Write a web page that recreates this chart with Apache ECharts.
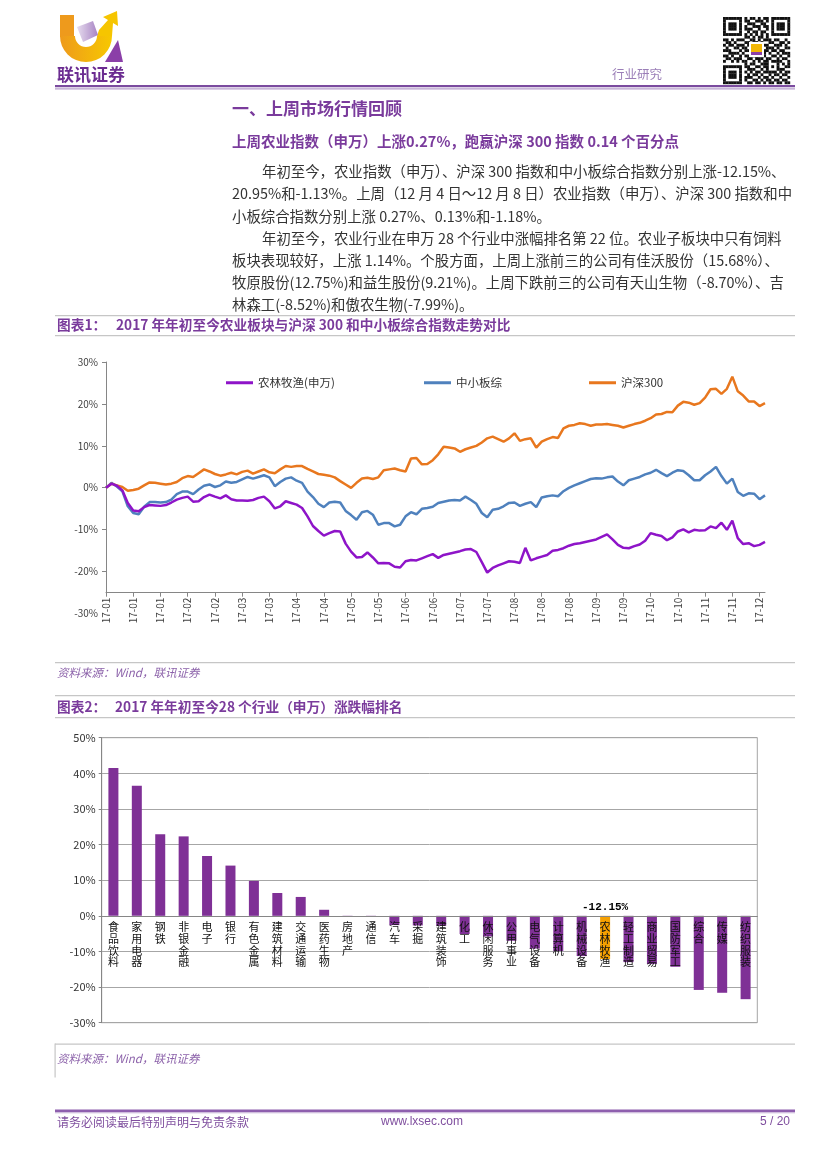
<!DOCTYPE html>
<html><head><meta charset="utf-8">
<script src="https://cdn.jsdelivr.net/npm/echarts@6/dist/echarts.min.js"></script>
<style>html,body{margin:0;padding:0;background:#fff}#c{width:827px;height:1170px}</style>
</head><body><div id="c"></div>
<script>
// ---------- Chart 1 data ----------
const monthLabels = ['17-01','17-01','17-01','17-02','17-02','17-03','17-03','17-04','17-04','17-05','17-05','17-06','17-06','17-07','17-07','17-08','17-08','17-08','17-09','17-09','17-10','17-10','17-11','17-11','17-12'];
const agriIdx = [
 0, 1.0, 0.5, -0.6, -3.6, -5.4, -5.6, -4.6, -4.1, -4.2,
 -4.3, -4.1, -3.5, -2.8, -2.4, -2.1, -3.3, -3.2, -2.2, -1.6,
 -2.1, -2.5, -1.8, -2.7, -3.0, -3.0, -3.1, -2.9, -2.4, -2.1,
 -3.2, -4.9, -4.4, -3.2, -3.6, -4.0, -4.8, -6.8, -9.1, -10.3,
 -11.4, -10.8, -10.3, -10.4, -13.3, -15.2, -16.6, -16.5, -15.4, -16.6,
 -18.0, -17.9, -18.0, -18.8, -19.0, -17.5, -17.2, -17.3, -16.8, -16.3,
 -15.8, -16.7, -16.0, -15.7, -15.4, -15.1, -14.7, -14.6, -15.3, -17.7,
 -20.2, -19.1, -18.5, -18.0, -17.5, -17.6, -17.9, -14.3, -17.3, -16.8,
 -16.4, -16.0, -15.0, -14.8, -14.4, -13.8, -13.4, -13.2, -12.9, -12.6,
 -12.3, -11.7, -11.1, -12.3, -13.6, -14.3, -14.4, -13.9, -13.5, -12.6,
 -10.8, -11.2, -11.5, -12.5, -11.8, -10.4, -9.9, -10.6, -10.0, -10.2,
 -10.1, -9.2, -9.6, -8.3, -10.0, -7.8, -12.0, -13.4, -13.2, -13.9,
 -13.6, -12.9];
const smeIdx = [
 0, 1.2, 0.3, -0.8, -4.4, -6.0, -6.3, -4.5, -3.4, -3.4,
 -3.5, -3.4, -2.8, -1.5, -0.9, -0.9, -1.5, -0.4, 0.5, 0.8,
 0.2, 0.6, 1.5, 1.2, 1.4, 2.0, 2.6, 2.2, 2.6, 3.0,
 2.5, 0.4, 1.4, 2.2, 2.5, 1.7, 1.2, -0.9, -2.2, -3.8,
 -4.6, -3.5, -3.3, -3.5, -5.5, -6.5, -7.6, -5.8, -5.5, -6.4,
 -8.8, -8.4, -8.4, -9.2, -8.8, -6.8, -5.8, -6.3, -5.0, -4.8,
 -4.5, -3.6, -3.3, -3.0, -2.9, -3.0, -2.1, -2.9, -3.8, -6.0,
 -7.0, -5.2, -5.0, -4.4, -3.6, -3.5, -4.3, -3.8, -3.4, -4.6,
 -2.3, -2.0, -1.8, -2.0, -0.8, 0.0, 0.6, 1.1, 1.6, 2.1,
 2.3, 2.2, 2.5, 2.7, 1.5, 0.6, 1.8, 2.2, 2.6, 3.2,
 3.6, 4.3, 3.5, 2.8, 3.6, 4.2, 4.0, 3.0, 1.8, 1.8,
 3.0, 3.9, 5.0, 2.8, 1.0, 2.2, -1.0, -1.9, -1.3, -1.4,
 -2.7, -1.8];
const hs300 = [
 0, 1.0, 0.6, 0.2, -0.7, -0.5, -0.2, 0.6, 1.3, 1.2,
 1.0, 0.8, 1.0, 1.4, 2.3, 2.8, 2.6, 3.5, 4.4, 3.9,
 3.3, 2.9, 3.2, 3.6, 3.2, 3.8, 4.1, 3.4, 3.9, 4.4,
 3.7, 3.5, 4.4, 5.2, 5.0, 5.2, 5.2, 4.5, 3.9, 3.3,
 3.1, 2.9, 2.5, 1.6, 0.8, 0.0, 1.2, 2.2, 2.4, 2.1,
 2.5, 4.2, 4.4, 4.6, 4.2, 3.9, 7.0, 7.1, 5.6, 5.7,
 6.6, 8.0, 9.8, 9.6, 9.4, 8.6, 9.2, 9.6, 10.0, 10.8,
 11.8, 12.2, 11.6, 11.0, 11.8, 13.0, 11.2, 11.6, 11.8, 9.6,
 11.0, 11.6, 12.1, 11.9, 14.2, 14.8, 15.0, 15.4, 15.2, 14.8,
 15.1, 15.1, 15.2, 15.0, 14.8, 14.4, 14.8, 15.2, 15.5, 16.0,
 16.6, 17.5, 17.6, 18.1, 18.0, 19.6, 20.5, 20.3, 19.8, 20.2,
 21.5, 23.5, 23.6, 22.4, 23.6, 26.5, 23.0, 22.0, 20.6, 20.6,
 19.5, 20.2];
const lineNames = ['农林牧渔(申万)', '中小板综', '沪深300'];
const lineColors = ['#8E14C8', '#4F81BD', '#E8771E'];
const dayCategories = agriIdx.map((_, i) => monthLabels[Math.min(monthLabels.length - 1, Math.floor(i / 5))]);

// ---------- Chart 2 data ----------
const industries = ['食品饮料','家用电器','钢铁','非银金融','电子','银行','有色金属','建筑材料','交通运输','医药生物','房地产','通信','汽车','采掘','建筑装饰','化工','休闲服务','公用事业','电气设备','计算机','机械设备','农林牧渔','轻工制造','商业贸易','国防军工','综合','传媒','纺织服装'];
const industryChg = [41.5, 36.5, 22.9, 22.3, 16.8, 14.1, 9.8, 6.4, 5.3, 1.7, -0.3, -0.3, -2.6, -2.7, -2.8, -5.1, -5.8, -7.0, -9.2, -9.9, -11.3, -12.15, -13.0, -13.5, -14.3, -20.8, -21.6, -23.4];
const highlightName = '农林牧渔';
const highlightLabel = '-12.15%';
const barAxisMin = -30, barAxisMax = 50;

// ---------- decoration helpers ----------
const CJK = '"Noto Sans CJK SC", sans-serif';
const PURPLE = '#7A3B9C';
function txt(x, y, text, font, fill, align) {
  return {type: 'text', x: x, y: y, silent: true,
    style: {text: text, font: font, fill: fill, textAlign: align || 'left', textVerticalAlign: 'middle'}};
}
function box(x, y, w, h, fill) {
  return {type: 'rect', silent: true, shape: {x: x, y: y, width: w, height: h}, style: {fill: fill}};
}
const g = [];
// logo
g.push(box(60, 15, 14, 22, '#EE9A1C'));
g.push({type: 'sector', silent: true, shape: {cx: 86, cy: 36, r: 26, r0: 11, startAngle: 0, endAngle: Math.PI, clockwise: true},
  style: {fill: new echarts.graphic.LinearGradient(0, 0, 1, 0, [{offset: 0, color: '#EE9A1C'}, {offset: 1, color: '#F7C800'}])}});
g.push({type: 'polygon', silent: true, shape: {points: [[97, 36], [112, 36], [113, 23], [118, 26], [117, 11], [103, 17], [108, 20], [99, 30]]}, style: {fill: '#F6C500'}});
g.push({type: 'polygon', silent: true, shape: {points: [[77, 27], [93, 21], [98, 35], [83, 42]]},
  style: {fill: new echarts.graphic.LinearGradient(0, 0, 1, 0, [{offset: 0, color: '#E6DCEE'}, {offset: 1, color: '#A884C4'}])}});
g.push({type: 'polygon', silent: true, shape: {points: [[118, 40], [105, 62], [123, 62]]}, style: {fill: '#8B3FA8'}});
g.push(txt(57, 75, '联讯证券', 'bold 17px ' + CJK, '#6B2C91'));
// QR code (decorative)
const qr = [
 '1111111010110101101111111','1000001011001110101000001','1011101001110011001011101','1011101010011101101011101',
 '1011101011100100101011101','1000001001011011001000001','1111111010101010101111111','0000000011010110100000000',
 '1101011100110101110110010','0110100011011010011001101','1011011101001101100111010','0100110110110010111010011',
 '1110001011000001101101100','0011110100100111010010111','1101001011011001001101001','0110111001101110110010110',
 '1001010110010101101111001','0000000010110011100010101','1111111011001101101010011','1000001001110010100011100',
 '1011101010101101111101011','1011101001011010010110110','1011101011100101101001001','1000001010011010110110110',
 '1111111001101101011011011'];
const qm = 67 / 25;
qr.forEach((row, r) => { for (let c = 0; c < row.length; c++) if (row[c] === '1') g.push(box(723 + c * qm, 17 + r * qm, qm + 0.2, qm + 0.2, '#111')); });
g.push(box(749, 42, 15, 15, '#fff'));
g.push(box(751, 44, 11, 8, '#F2B705'));
g.push(box(751, 52, 11, 3, '#8B3FA8'));
g.push(txt(612, 74, '行业研究', '12.5px ' + CJK, '#9B7FB8'));
// header lines
g.push(box(55, 85, 740, 2.2, '#7B4B9F'));
g.push(box(55, 88.3, 740, 1.1, '#B59CCB'));
// headings and body
g.push(txt(232, 109, '一、上周市场行情回顾', 'bold 17px ' + CJK, PURPLE));
g.push(txt(232, 141, '上周农业指数（申万）上涨0.27%，跑赢沪深 300 指数 0.14 个百分点', 'bold 14.5px ' + CJK, PURPLE));
const bodyFont = '14.4px ' + CJK, bodyCol = '#333';
g.push(txt(262, 172, '年初至今，农业指数（申万）、沪深 300 指数和中小板综合指数分别上涨-12.15%、', bodyFont, bodyCol));
g.push(txt(232, 194, '20.95%和-1.13%。上周（12 月 4 日～12 月 8 日）农业指数（申万）、沪深 300 指数和中', bodyFont, bodyCol));
g.push(txt(232, 216.5, '小板综合指数分别上涨 0.27%、0.13%和-1.18%。', bodyFont, bodyCol));
g.push(txt(262, 238.5, '年初至今，农业行业在申万 28 个行业中涨幅排名第 22 位。农业子板块中只有饲料', bodyFont, bodyCol));
g.push(txt(232, 260.5, '板块表现较好，上涨 1.14%。个股方面，上周上涨前三的公司有佳沃股份（15.68%）、', bodyFont, bodyCol));
g.push(txt(232, 282.5, '牧原股份(12.75%)和益生股份(9.21%)。上周下跌前三的公司有天山生物（-8.70%）、吉', bodyFont, bodyCol));
g.push(txt(232, 304.5, '林森工(-8.52%)和傲农生物(-7.99%)。', bodyFont, bodyCol));
// chart 1 frame texts
const GRAY = '#C6C6C6';
const titleFont = 'bold 13.7px ' + CJK;
g.push(box(55, 315, 740, 1.3, GRAY));
g.push(txt(57, 324.5, '图表1：', titleFont, PURPLE));
g.push(txt(116, 324.5, '2017 年年初至今农业板块与沪深 300 和中小板综合指数走势对比', titleFont, PURPLE));
g.push(box(55, 335, 740, 1.3, GRAY));
g.push(box(55, 662, 740, 1.3, GRAY));
g.push(txt(57, 672.5, '资料来源：Wind，联讯证券', 'italic 11.5px ' + CJK, '#8C62AA'));
// chart 2 frame texts
g.push(box(55, 695, 740, 1.3, GRAY));
g.push(txt(57, 707, '图表2：', titleFont, PURPLE));
g.push(txt(115, 707, '2017 年年初至今28 个行业（申万）涨跌幅排名', titleFont, PURPLE));
g.push(box(55, 717, 740, 1.3, GRAY));
g.push(box(55, 1043.5, 740, 1.3, GRAY));
g.push(box(54.5, 1043.5, 1.2, 34, GRAY));
g.push(txt(57, 1058.5, '资料来源：Wind，联讯证券', 'italic 11.5px ' + CJK, '#8C62AA'));
// footer
g.push(box(55, 1109.5, 740, 2.4, '#8E5FAE'));
g.push(box(55, 1112.2, 740, 1, '#C0A8D2'));
g.push(txt(57, 1122, '请务必阅读最后特别声明与免责条款', '12px ' + CJK, '#7F4E9E'));
g.push(txt(381, 1122, 'www.lxsec.com', '12px "Liberation Sans Narrow", "Liberation Sans", sans-serif', '#7F4E9E'));
g.push(txt(790, 1122, '5 / 20', '12px "Liberation Sans Narrow", "Liberation Sans", sans-serif', '#7F4E9E', 'right'));

const AX = '#868686';
const grid2H = 285;
// category axis sits on the zero line of the value axis
const zeroOffset = -grid2H * (0 - barAxisMin) / (barAxisMax - barAxisMin);
const chart = echarts.init(document.getElementById('c'), null, {renderer: 'canvas'});
const seriesData = [agriIdx, smeIdx, hs300];
const lineSeries = lineNames.map((n, k) => ({
  name: n, type: 'line', xAxisIndex: 0, yAxisIndex: 0, data: seriesData[k],
  symbol: 'none', showSymbol: false, lineStyle: {width: 2.5, color: lineColors[k]}, itemStyle: {color: lineColors[k]},
  z: k === 0 ? 4 : 3
}));
const legendLeft = [226, 424, 589];
chart.setOption({
  backgroundColor: '#fff',
  animation: false,
  textStyle: {fontFamily: CJK},
  graphic: {elements: g},
  legend: lineNames.map((n, k) => ({
    data: [n], left: legendLeft[k], top: 377, padding: 0, icon: 'rect', itemWidth: 27, itemHeight: 3,
    selectedMode: false, textStyle: {fontSize: 11.5, color: '#333', fontFamily: CJK}
  })),
  grid: [
    {left: 106, top: 362, width: 659, height: 230.7},
    {left: 106, top: 362, width: 659, height: 251.4},
    {left: 101.7, top: 737.7, width: 655.6, height: grid2H, show: true, borderColor: '#A6A6A6', borderWidth: 1}
  ],
  xAxis: [
    {gridIndex: 0, type: 'category', data: dayCategories, boundaryGap: false,
     axisLine: {onZero: false, lineStyle: {color: AX}},
     axisTick: {interval: 4, length: 4, lineStyle: {color: AX}},
     axisLabel: {interval: 4, rotate: 90, fontSize: 10, color: '#404040', margin: 5}},
    {gridIndex: 1, type: 'value', show: false, min: 0, max: 1},
    {gridIndex: 2, type: 'category', data: industries, z: 10, position: 'bottom', offset: zeroOffset,
     axisLine: {onZero: false, lineStyle: {color: AX}},
     axisTick: {length: 3, lineStyle: {color: AX}},
     axisLabel: {interval: 0, fontSize: 11, lineHeight: 11.8, color: '#111', margin: 5, verticalAlign: 'top',
       formatter: v => v.split('').join('\n')}}
  ],
  yAxis: [
    {gridIndex: 0, type: 'value', min: -25, max: 30, axisLine: {show: true, lineStyle: {color: AX}},
     axisTick: {show: false}, axisLabel: {show: false}, splitLine: {show: false}},
    {gridIndex: 1, type: 'value', min: -30, max: 30, interval: 10, axisLine: {show: false},
     axisTick: {show: true, length: 4, lineStyle: {color: AX}, customValues: [-20, -10, 0, 10, 20, 30]},
     axisLabel: {fontSize: 10, color: '#404040', margin: 8, formatter: '{value}%'}, splitLine: {show: false}},
    {gridIndex: 2, type: 'value', min: barAxisMin, max: barAxisMax, interval: 10,
     axisLine: {show: true, lineStyle: {color: AX}},
     axisTick: {show: true, length: 3, lineStyle: {color: AX}},
     axisLabel: {fontSize: 11, color: '#333', margin: 6, formatter: '{value}%'},
     splitLine: {lineStyle: {color: '#A6A6A6', width: 1}}}
  ],
  series: lineSeries.concat([{
    type: 'bar', xAxisIndex: 2, yAxisIndex: 2, barWidth: 10,
    data: industryChg.map((v, i) => ({value: v, itemStyle: {color: industries[i] === highlightName ? '#F5A000' : '#7F3096'}})),
    markPoint: {
      symbol: 'circle', symbolSize: 0, silent: true,
      data: [{coord: [highlightName, 0], value: highlightLabel}],
      label: {show: true, position: 'top', distance: 3, formatter: highlightLabel,
        fontFamily: '"Liberation Mono", monospace', fontWeight: 'bold', fontSize: 11, color: '#000'}
    }
  }])
});
</script>
</body></html>
